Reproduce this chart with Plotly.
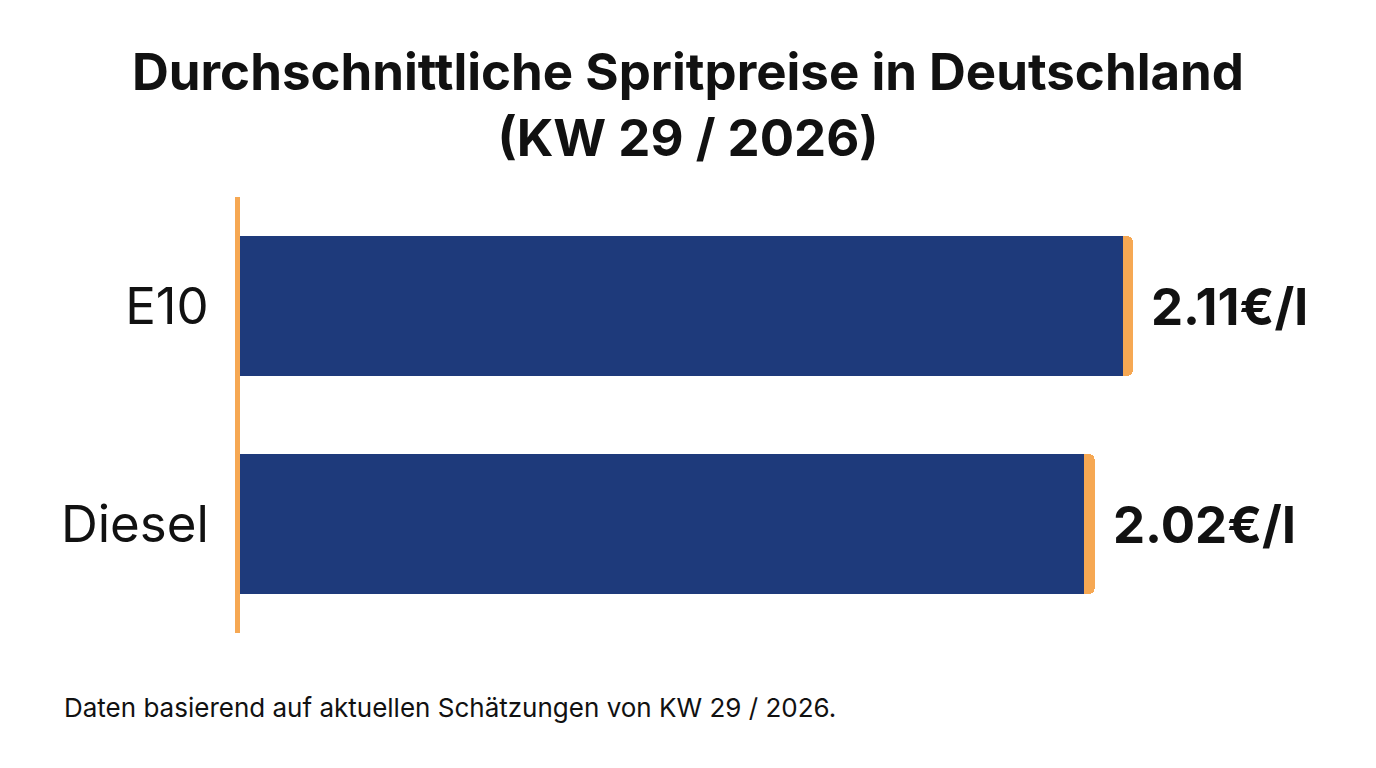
import plotly.graph_objects as go

categories = ["E10", "Diesel"]
prices = [2.11, 2.02]
labels = ["2.11€/l", "2.02€/l"]
title_lines = ["Durchschnittliche Spritpreise in Deutschland", "(KW 29 / 2026)"]
footnote = "Daten basierend auf aktuellen Schätzungen von KW 29 / 2026."

NAVY = "#1e3a7b"
ORANGE = "#f6a853"
CAP = 0.024  # width of the orange end cap, in data units

body = [p - CAP for p in prices]
caps = [CAP for _ in prices]

fig = go.Figure()
fig.add_trace(go.Bar(y=categories, x=body, orientation="h", marker=dict(color=NAVY, line=dict(width=0)),
                     hoverinfo="skip", showlegend=False))
fig.add_trace(go.Bar(y=categories, x=caps, orientation="h", marker=dict(color=ORANGE, line=dict(width=0)),
                     hoverinfo="skip", showlegend=False))

for cat, p, lab in zip(categories, prices, labels):
    fig.add_annotation(x=p, y=cat, text=f"<b>{lab}</b>", showarrow=False, xanchor="left", yanchor="middle",
                       xshift=16, font=dict(family="Inter", size=51, color="#111111"))

fig.add_annotation(x=-0.162, y=-0.172, xref="paper", yref="paper", text=footnote, showarrow=False,
                   xanchor="left", yanchor="middle", font=dict(family="Inter", size=26, color="#111111"))

fig.update_layout(
    width=1376, height=768,
    margin=dict(l=240, r=36, t=197, b=135),
    paper_bgcolor="white", plot_bgcolor="white",
    barmode="stack", bargap=0.36, barcornerradius=5,
    title=dict(text="<b>" + "<br>".join(title_lines) + "</b>", x=(688 - 240) / 1100, xref="paper",
               xanchor="center", y=1 - 90 / 768, yref="container", yanchor="top",
               font=dict(family="Inter", size=51, color="#111111")),
    xaxis=dict(range=[0, 2.6], showgrid=False, zeroline=False, showticklabels=False, showline=False, fixedrange=True),
    yaxis=dict(autorange="reversed", showgrid=False, zeroline=False, showline=True, linecolor=ORANGE, linewidth=5,
               ticks="", ticklabelstandoff=16, tickfont=dict(family="Inter", size=51, color="#111111")),
)

fig.write_html("out.html")
